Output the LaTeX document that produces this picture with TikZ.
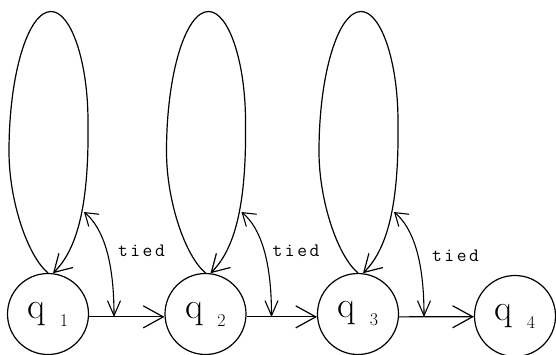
\documentclass[tikz,border=0pt]{standalone}
\usepackage{fontspec}
\usetikzlibrary{arrows.meta,calc}
\newcommand\qlab[1]{{\fontsize{37}{37}\selectfont q}\hspace{14pt}\raisebox{-8pt}{\fontsize{18}{18}\selectfont #1}}
\newcommand\tiedtext{t\hspace{2.5pt}i\hspace{2.5pt}e\hspace{2.5pt}d}
\tikzset{
 state/.style={circle, draw, line width=1.2pt, minimum size=81pt, inner sep=0pt},
 edge/.style={line width=1.2pt, -{Straight Barb[length=20pt,width=22pt]}},
 loopedge/.style={line width=1.2pt, -{Straight Barb[length=17pt,width=20pt]}},
 tie/.style={line width=1.1pt, {Straight Barb[length=12pt,width=16pt]}-{Straight Barb[length=15pt,width=13pt]}},
 tiedlabel/.style={font=\fontsize{19}{19}\selectfont\ttfamily, anchor=base}
}
\begin{document}
\begin{tikzpicture}[x=1pt,y=1pt]
\useasboundingbox (0,0) rectangle (556,354);
\node[state] (q1) at (48,40) {\qlab{1}};
\node[state] (q2) at (205.5,40) {\qlab{2}};
\node[state] (q3) at (358,40) {\qlab{3}};
\node[state] (q4) at (515,38) {\qlab{4}};
\draw[edge] (q1.-4) -- (q2.184);
\draw[edge] (q2.-4) -- (q3.184);
\draw[edge] (q3.-4) -- (q4.181);
\foreach \i in {1,2,3}{
  \draw[loopedge, shift={(q\i.center)}] (q\i.north)
    .. controls (-20,57.5) and (-39,112.5) .. (-39,162.5)
    .. controls (-39,239.5) and (-20,302.5) .. (3,302.5)
    .. controls (23,302.5) and (40,252.5) .. (40,192.5)
    .. controls (41,117.5) and (32,67.5) .. (q\i.83);
  \path[shift={(q\i.center)}] coordinate (ta\i) at (36,102) coordinate (tb\i) at (66,-3);
  \draw[tie, shift={(q\i.center)}] (ta\i) .. controls (55,86) and (66,54) .. (tb\i);
}
\node[tiedlabel] (l1) at (141.5,98) {\tiedtext};
\node[tiedlabel] (l2) at (296,98) {\tiedtext};
\node[tiedlabel] (l3) at (455.5,93) {\tiedtext};
\end{tikzpicture}
\end{document}
